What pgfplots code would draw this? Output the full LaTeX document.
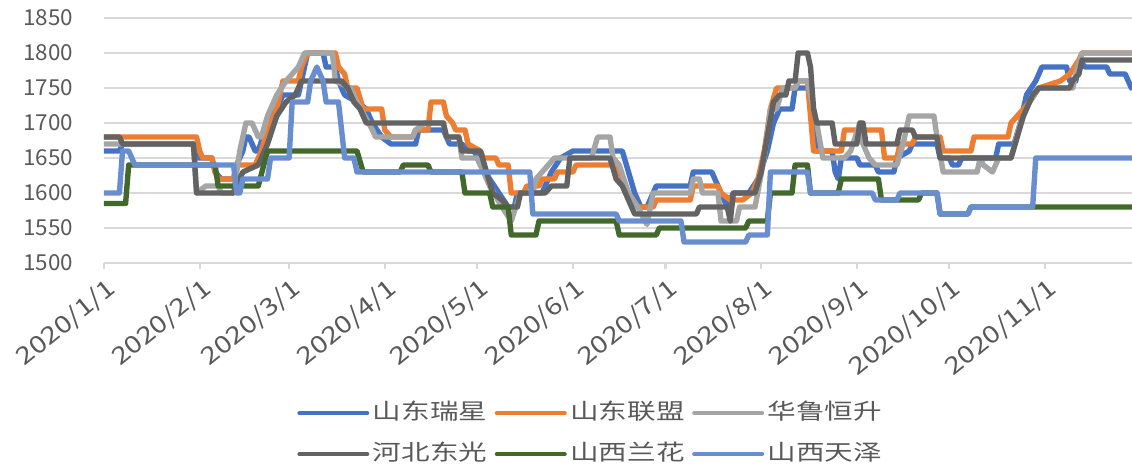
\documentclass[border=0pt]{standalone}
\usepackage{pgfplots}
\pgfplotsset{compat=1.18}
\usepackage{fontspec}
\setmainfont{Noto Sans CJK SC}
\newfontfamily\cjk{Noto Sans CJK SC}
\definecolor{c1}{HTML}{4472C4}
\definecolor{c2}{HTML}{ED7D31}
\definecolor{c3}{HTML}{A5A5A5}
\definecolor{c4}{HTML}{636363}
\definecolor{c5}{HTML}{43682B}
\definecolor{c6}{HTML}{698ED0}
\definecolor{gridc}{HTML}{D9D9D9}
\definecolor{txt}{HTML}{595959}
\newcommand{\xl}[1]{\scalebox{1.2}[1]{#1}}
\begin{document}
\begin{tikzpicture}
\useasboundingbox (0,0) rectangle (566pt,232pt);
\begin{axis}[
  at={(52pt,100.5pt)}, anchor=south west,
  scale only axis, width=514pt, height=122.5pt,
  xmin=0, xmax=333.2, ymin=1500, ymax=1850,
  ytick={1500,1550,...,1850},
  xtick={0,31,60,91,121,152,182,213,244,274,305},
  xticklabels={\xl{2020/1/1},\xl{2020/2/1},\xl{2020/3/1},\xl{2020/4/1},\xl{2020/5/1},\xl{2020/6/1},\xl{2020/7/1},\xl{2020/8/1},\xl{2020/9/1},\xl{2020/10/1},\xl{2020/11/1}},
  axis line style={draw=none},
  ymajorgrids, grid style={color=gridc, line width=1.1pt},
  xtick pos=bottom, tick align=outside, major tick length=3pt,
  xtick style={draw=gridc, line width=1.1pt},
  ytick style={draw=none},
  font=\fontsize{11}{13}\selectfont\color{txt},
  /pgf/number format/assume math mode=true,
  /pgf/number format/1000 sep={},
  yticklabel={\scalebox{1.02}[1]{\pgfmathprintnumber{\tick}}},
  yticklabel style={anchor=east, xshift=-9pt},
  xticklabel style={font=\fontsize{12}{14}\selectfont\color{txt}, xshift=1pt, yshift=1pt, rotate=39, anchor=north east},
  clip=true,
  every axis plot/.append style={line width=2.7pt, line join=round, line cap=round},
  legend columns=3,
  legend style={at={(0.1877,-0.55)}, anchor=north west, draw=none, fill=none,
    inner sep=0pt, font=\cjk\fontsize{11}{13}\selectfont\color{txt},
    nodes={inner sep=1.75pt, text height=9pt, text depth=2.5pt},
    row sep=5.5pt,
    /tikz/every even column/.append style={column sep=2pt}},
  legend image code/.code={\draw[line width=2pt, line cap=round] (0pt,0pt) -- (34pt,0pt);},
]
% 山东瑞星
\addplot[c1] coordinates {
(0,1660)(5,1660)(6,1670)(29,1670)(30,1650)(35,1650)(36,1630)(38,1620)(42,1620)(43,1640)(45,1660)(46,1680)(47,1680)(49,1660)(50,1660)(53,1700)(56,1720)(58,1740)(63,1740)(64,1760)(65,1780)(66,1800)(71,1800)(72,1780)(75,1780)(76,1760)(78,1740)(82,1730)(85,1720)(87,1700)(90,1680)(93,1670)(101,1670)(102,1690)(110,1690)(112,1670)(116,1670)(118,1660)(120,1660)(122,1640)(125,1620)(128,1600)(131,1580)(133,1580)(134,1600)(142,1600)(145,1630)(148,1650)(152,1660)(168,1660)(170,1630)(172,1600)(174,1580)(176,1580)(179,1610)(190,1610)(191,1630)(197,1630)(198,1620)(200,1600)(202,1580)(204,1600)(209,1600)(212,1620)(215,1660)(217,1700)(219,1720)(223,1720)(224,1750)(228,1750)(229,1750)(231,1660)(236,1660)(237,1630)(238,1620)(239,1650)(244,1650)(245,1640)(250,1640)(251,1630)(256,1630)(257,1650)(261,1660)(262,1670)(270,1670)(271,1650)(274,1650)(275,1640)(277,1640)(278,1650)(289,1650)(290,1670)(295,1670)(297,1700)(299,1740)(302,1760)(304,1780)(312,1780)(313,1760)(315,1760)(316,1790)(318,1780)(325,1780)(326,1770)(331,1770)(333,1750)
};
\addlegendentry{\scalebox{1.3}[1]{山东瑞星}}
% 山东联盟
\addplot[c2] coordinates {
(0,1680)(30,1680)(31,1660)(32,1650)(35,1650)(36,1630)(37,1620)(42,1620)(43,1640)(49,1640)(51,1660)(53,1690)(56,1720)(58,1760)(63,1760)(64,1780)(66,1800)(75,1800)(76,1780)(78,1770)(79,1750)(82,1750)(84,1720)(90,1720)(91,1690)(93,1680)(100,1680)(101,1690)(105,1690)(106,1730)(110,1730)(111,1710)(113,1700)(114,1690)(117,1690)(118,1670)(122,1660)(123,1650)(127,1650)(128,1640)(131,1640)(132,1600)(136,1600)(137,1610)(141,1610)(142,1620)(146,1620)(147,1630)(152,1630)(153,1640)(165,1640)(167,1630)(170,1600)(173,1580)(178,1580)(179,1590)(190,1590)(191,1610)(199,1610)(200,1600)(203,1590)(207,1590)(210,1600)(212,1620)(214,1660)(216,1720)(218,1750)(224,1750)(225,1760)(228,1760)(230,1660)(239,1660)(240,1690)(252,1690)(253,1650)(257,1650)(258,1670)(262,1670)(263,1680)(271,1680)(272,1660)(281,1660)(282,1680)(293,1680)(294,1700)(296,1710)(300,1730)(303,1750)(310,1760)(313,1770)(316,1790)(317,1800)(333,1800)
};
\addlegendentry{\scalebox{1.3}[1]{山东联盟}}
% 华鲁恒升
\addplot[c3] coordinates {
(0,1670)(29,1670)(30,1600)(33,1610)(37,1610)(38,1600)(42,1600)(44,1660)(46,1700)(48,1700)(50,1680)(51,1680)(53,1710)(56,1740)(59,1760)(63,1780)(65,1800)(74,1800)(75,1760)(80,1750)(82,1730)(87,1690)(88,1680)(100,1680)(101,1690)(104,1700)(110,1700)(111,1680)(115,1680)(116,1650)(121,1650)(122,1640)(125,1610)(129,1580)(132,1560)(135,1600)(139,1600)(140,1620)(144,1640)(146,1650)(158,1650)(160,1680)(164,1680)(165,1650)(167,1640)(170,1600)(173,1580)(176,1555)(178,1600)(190,1600)(191,1620)(193,1620)(194,1600)(199,1600)(200,1560)(205,1560)(206,1580)(211,1580)(214,1650)(216,1720)(218,1720)(220,1750)(224,1750)(225,1760)(228,1760)(231,1700)(233,1650)(240,1650)(242,1660)(245,1700)(246,1670)(248,1650)(250,1640)(257,1640)(259,1670)(261,1710)(269,1710)(270,1680)(272,1630)(283,1630)(284,1650)(285,1640)(288,1630)(290,1650)(294,1650)(297,1700)(300,1730)(303,1750)(314,1750)(315,1770)(317,1800)(333,1800)
};
\addlegendentry{\scalebox{1.3}[1]{华鲁恒升}}
% 河北东光
\addplot[c4] coordinates {
(0,1680)(5,1680)(6,1670)(29,1670)(30,1600)(42,1600)(43,1610)(45,1630)(50,1640)(53,1670)(56,1710)(59,1730)(62,1740)(64,1760)(77,1760)(79,1750)(81,1730)(83,1720)(85,1700)(110,1700)(111,1680)(115,1680)(116,1660)(122,1660)(124,1630)(126,1600)(129,1590)(131,1580)(134,1580)(135,1600)(143,1600)(145,1610)(150,1610)(151,1650)(164,1650)(166,1620)(168,1610)(170,1590)(172,1570)(192,1570)(193,1580)(202,1580)(203,1560)(204,1600)(211,1600)(213,1630)(215,1680)(217,1730)(219,1740)(221,1740)(222,1760)(224,1760)(225,1800)(228,1800)(229,1780)(230,1720)(231,1700)(236,1700)(237,1670)(244,1670)(245,1700)(246,1700)(247,1670)(257,1670)(258,1690)(262,1690)(263,1680)(270,1680)(271,1650)(294,1650)(296,1680)(298,1710)(301,1740)(303,1750)(313,1750)(314,1760)(316,1770)(317,1790)(333,1790)
};
\addlegendentry{\scalebox{1.3}[1]{河北东光}}
% 山西兰花
\addplot[c5] coordinates {
(0,1585)(7,1585)(8,1640)(36,1640)(37,1610)(50,1610)(53,1660)(82,1660)(84,1630)(96,1630)(97,1640)(105,1640)(106,1630)(116,1630)(117,1600)(125,1600)(126,1580)(131,1580)(132,1540)(140,1540)(141,1560)(166,1560)(167,1540)(179,1540)(180,1550)(208,1550)(209,1560)(215,1560)(216,1600)(223,1600)(224,1640)(228,1640)(229,1600)(238,1600)(239,1620)(251,1620)(252,1590)(264,1590)(265,1600)(270,1600)(271,1570)(280,1570)(281,1580)(333,1580)
};
\addlegendentry{\scalebox{1.3}[1]{山西兰花}}
% 山西天泽
\addplot[c6] coordinates {
(0,1600)(5,1600)(6,1660)(8,1660)(10,1640)(42,1640)(43,1600)(44,1600)(45,1620)(53,1620)(54,1650)(60,1650)(61,1730)(66,1730)(67,1760)(69,1780)(71,1760)(72,1730)(76,1730)(78,1650)(81,1650)(82,1630)(138,1630)(139,1570)(166,1570)(167,1560)(187,1560)(188,1530)(208,1530)(209,1540)(215,1540)(216,1630)(228,1630)(229,1600)(249,1600)(250,1590)(257,1590)(258,1600)(270,1600)(271,1570)(280,1570)(281,1580)(301,1580)(302,1650)(333,1650)
};
\addlegendentry{\scalebox{1.3}[1]{山西天泽}}
\end{axis}
\end{tikzpicture}
\end{document}
